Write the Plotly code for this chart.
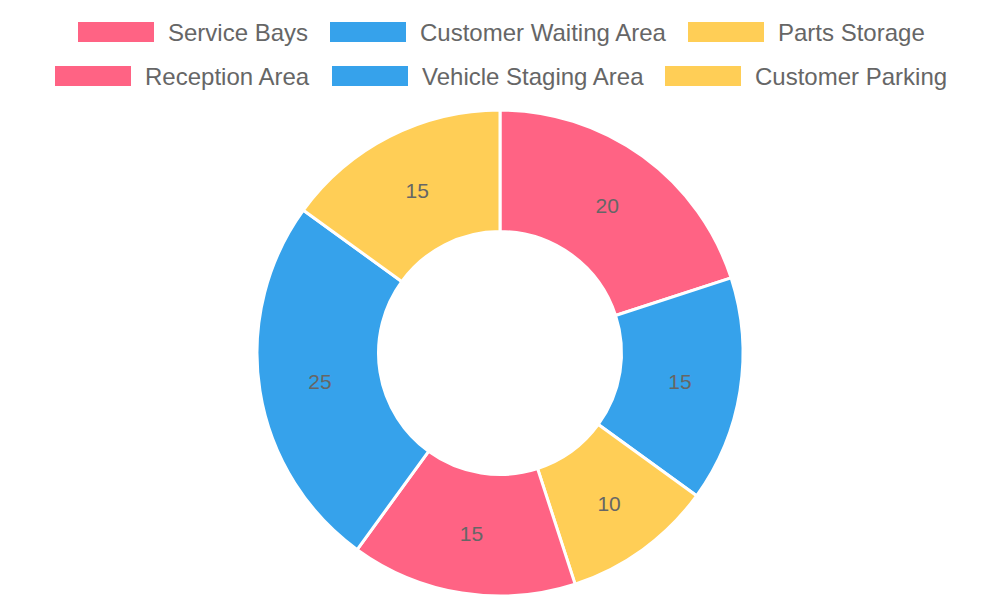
import plotly.graph_objects as go

labels = ["Service Bays", "Customer Waiting Area", "Parts Storage",
          "Reception Area", "Vehicle Staging Area", "Customer Parking"]
values = [20, 15, 10, 15, 25, 15]
colors = ["#FF6384", "#36A2EB", "#FFCE56", "#FF6384", "#36A2EB", "#FFCE56"]

# legend layout (pixel positions of swatch left edge, row centre)
legend_rows = [[0, 1, 2], [3, 4, 5]]
legend_swatch_x = [78, 330, 688, 55, 332, 665]
legend_row_y = [32, 76]

W, H = 1000, 600

fig = go.Figure(go.Pie(
    labels=labels,
    values=values,
    marker=dict(colors=colors, line=dict(color="white", width=3)),
    hole=0.5,
    sort=False,
    direction="clockwise",
    rotation=0,
    textinfo="value",
    textposition="inside",
    insidetextorientation="horizontal",
    textfont=dict(family="Liberation Sans, Arial, sans-serif", size=21, color="#666666"),
    hoverinfo="label+value",
    domain=dict(x=[257 / W, 743 / W], y=[1 - 596 / H, 1 - 110 / H]),
    showlegend=False,
))

shapes = []
annotations = []
for r, row in enumerate(legend_rows):
    yc = legend_row_y[r]
    for i in row:
        x0 = legend_swatch_x[i]
        shapes.append(dict(
            type="rect", xref="paper", yref="paper",
            x0=x0 / W, x1=(x0 + 76) / W,
            y0=1 - (yc + 10) / H, y1=1 - (yc - 10) / H,
            fillcolor=colors[i], line=dict(width=0),
        ))
        annotations.append(dict(
            xref="paper", yref="paper",
            x=(x0 + 88) / W, y=1 - yc / H,
            xanchor="left", yanchor="middle",
            text=labels[i], showarrow=False,
            font=dict(family="Liberation Sans, Arial, sans-serif", size=24, color="#666666"),
        ))

fig.update_layout(
    width=W, height=H,
    margin=dict(l=0, r=0, t=0, b=0),
    paper_bgcolor="white",
    plot_bgcolor="white",
    shapes=shapes,
    annotations=annotations,
)

fig.write_html("out.html")
